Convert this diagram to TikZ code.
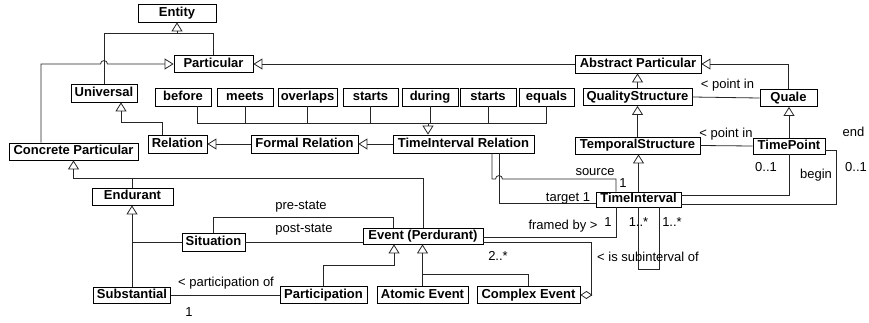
\documentclass[tikz,border=0pt]{standalone}
\usepackage{fontspec}
\setmainfont{Liberation Sans}
\usetikzlibrary{arrows.meta}
\begin{document}
\begin{tikzpicture}[x=1pt,y=-1pt,
 box/.style={draw=black, line width=0.8pt, font=\fontsize{13}{15}\selectfont\bfseries, inner sep=0.5pt, text height=9.5pt, text depth=2.6pt},
 lbl/.style={font=\fontsize{13}{15}\selectfont, inner sep=0pt},
 conn/.style={line width=0.8pt, draw=black!85},
 gen/.style={conn, -{Triangle[open, length=9pt, width=11pt, line width=0.8pt]}},
 agg/.style={conn, -{Diamond[open, length=12pt, width=8pt, line width=0.8pt]}},
]
\useasboundingbox (0,0) rectangle (869,322);
\newcommand\bx[6]{\node[box, minimum width=#4pt, minimum height=#5pt] (#1) at (#2,#3) {#6};}
% boxes
\bx{Entity}{177}{13}{78}{18}{Entity}
\bx{Particular}{213.5}{64}{79}{17}{Particular}
\bx{Universal}{104}{93}{66}{18}{Universal}
\bx{before}{183}{97}{56}{18}{before}
\bx{meets}{245}{97}{56}{18}{meets}
\bx{overlaps}{307.5}{97}{59}{18}{overlaps}
\bx{startsA}{370.5}{97}{55}{18}{starts}
\bx{during}{430}{97}{56}{18}{during}
\bx{startsB}{488}{97}{56}{18}{starts}
\bx{equals}{546.5}{97}{55}{18}{equals}
\bx{Relation}{177.5}{144}{59}{18}{Relation}
\bx{Formal}{304.5}{144}{107}{18}{Formal Relation}
\bx{TIR}{463.5}{144}{141}{18}{TimeInterval Relation}
\bx{AP}{638}{64}{126}{18}{Abstract Particular}
\bx{QS}{637.5}{97}{109}{17}{QualityStructure}
\bx{Quale}{788.5}{98}{57}{17}{Quale}
\bx{TS}{637.5}{145.5}{125}{17}{TemporalStructure}
\bx{TP}{789}{146}{72}{16}{TimePoint}
\bx{TI}{638.5}{199.5}{85}{15}{TimeInterval}
\bx{CP}{73.5}{151.5}{129}{17}{Concrete Particular}
\bx{Endurant}{132.5}{196.5}{81}{17}{Endurant}
\bx{Situation}{213.5}{242}{63}{18}{Situation}
\bx{Event}{423}{236}{120}{16}{Event (Perdurant)}
\bx{Substantial}{132}{295}{77}{16}{Substantial}
\bx{Participation}{323.5}{295}{87}{17}{Participation}
\bx{Atomic}{422.5}{295}{91}{17}{Atomic Event}
\bx{Complex}{528.5}{295}{103}{17}{Complex Event}

% coordinates
\coordinate (ej) at (177,33);
\coordinate (bus) at (0,123);
\coordinate (cpj) at (73.5,178);
\coordinate (trTop) at ([xshift=-35.5pt]TIR.north);

% generalizations
\draw[gen] (Particular.north) |- (ej) -- (Entity.south);
\draw[conn] (Universal.north) |- (ej);
\draw[gen] ([xshift=-32.5pt]CP.north) |- (100.5,64) .. controls (100.5,59.5) and (107.5,59.5) .. (107.5,64) -- (Particular.west);
\draw[gen] (AP.west) -- (Particular.east);
\draw[gen] (Quale.north) |- (AP.east);
\draw[gen] (QS.north) -- (QS.north |- AP.south);
\draw[gen] (TS.north) -- (TS.north |- QS.south);
\draw[gen] (TI.north) -- (TI.north |- TS.south);
\draw[gen] (TP.north) -- (TP.north |- Quale.south);
\draw[gen] ([xshift=-15.5pt]Relation.north) -- ++(0,-12) -| ([xshift=17pt]Universal.south);
\draw[gen] (Formal.west) -- (Relation.east);
\draw[gen] (TIR.west) -- (Formal.east);

% relation bus
\draw[conn] ([xshift=14pt]before.south) |- (equals.south |- bus) -- (equals.south);
\foreach \n in {meets,overlaps,startsA,during,startsB}
  \draw[conn] (\n.south) -- (\n.south |- bus);
\draw[gen] (trTop |- bus) -- (trTop);

% concrete particulars
\draw[gen] (Event.north) |- (cpj) -- (CP.south);
\draw[conn] (Endurant.north) -- (Endurant.north |- cpj);
\draw[gen] (Substantial.north) -- (Substantial.north |- Endurant.south);
\draw[conn] (Situation.west) -- (Situation.west -| Substantial.north);
\draw[conn] (Situation.north) -- ++(0,-15) -| ([xshift=-30pt]Event.north);
\draw[conn] (Situation.east) -- (Situation.east -| Event.west);
\draw[gen] (Participation.north) -- ++(0,-21) -| ([xshift=-29pt]Event.south);
\draw[gen] (Atomic.north) -- (Atomic.north |- Event.south);
\draw[conn] (Complex.north) |- (423,274);
\draw[conn] (Substantial.east) -- (Participation.west);

% associations
\draw[conn] (QS.east) -- (Quale.west);
\draw[conn] (TS.east) -- (TP.west);
\draw[conn] (TP.south) |- ([yshift=4.5pt]TI.east);
\draw[conn] ([yshift=-4pt]TP.east) -- ++(11,0) |- ([yshift=-4.5pt]TI.east);
\draw[conn] ([xshift=28.5pt]TIR.south) |- (495.5,179) .. controls (495.5,174.5) and (502.5,174.5) .. (502.5,179) -| ([xshift=-22.5pt]TI.north);
\draw[conn] ([xshift=35.5pt]TIR.south) |- ([yshift=-3.5pt]TI.west);
\draw[conn] ([xshift=-22.5pt]TI.south) |- ([yshift=-1pt]Event.east);
\draw[conn] ([xshift=-0.5pt]TI.south) -- ++(0,62) -| ([xshift=20.5pt]TI.south);
\draw[agg] ([yshift=-6pt]Event.east) -- (591,242) |- (Complex.east);

% labels
\node[lbl] (l1) at (727.5,85) {< point in};
\node[lbl] (l2) at (726,134) {< point in};
\node[lbl] (l3) at (853.5,132) {end};
\node[lbl] (l4) at (856,167) {0..1};
\node[lbl] (l5) at (816,175) {begin};
\node[lbl] (l6) at (766,167) {0..1};
\node[lbl] (l7) at (595,172) {source};
\node[lbl] (l8) at (623,183) {1};
\node[lbl] (l9) at (568,198) {target 1};
\node[lbl] (l10) at (563,226) {framed by >};
\node[lbl] (l11) at (608,222) {1};
\node[lbl] (l12) at (638.5,222) {1..*};
\node[lbl] (l13) at (672,222) {1..*};
\node[lbl] (l14) at (498,256) {2..*};
\node[lbl] (l15) at (648,257) {< is subinterval of};
\node[lbl] (l16) at (301,207) {pre-state};
\node[lbl] (l17) at (304,230) {post-state};
\node[lbl] (l18) at (226,283) {< participation of};
\node[lbl] (l19) at (189,312) {1};
\end{tikzpicture}
\end{document}
